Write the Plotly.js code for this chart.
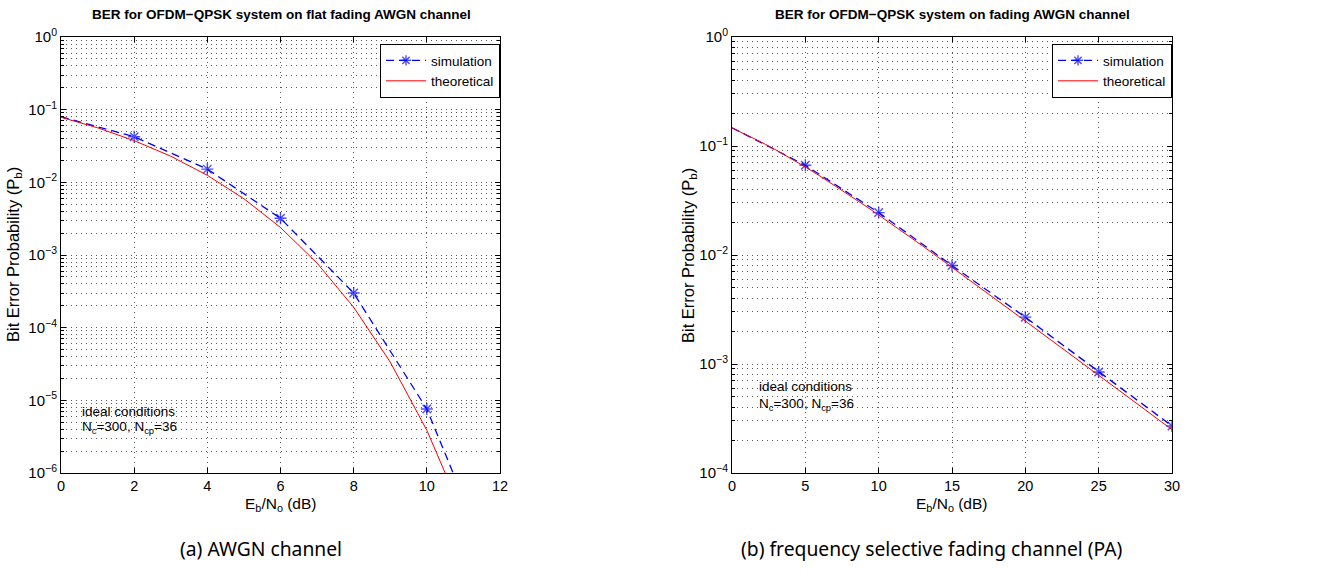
<!DOCTYPE html>
<html>
<head>
<meta charset="utf-8">
<script src="https://cdn.plot.ly/plotly-3.0.1.min.js"></script>
<style>
  html, body { margin: 0; padding: 0; background: #fff; }
  #chart { width: 1329px; height: 573px; }
</style>
</head>
<body>
<div id="chart"></div>
<script>
// (a) AWGN channel: Eb/No in dB and bit error probability
const ebnoTheoryA = [0, 1, 2, 3, 4, 5, 6, 7, 8, 9, 10, 11];
const berTheoryA  = [0.0786, 0.0563, 0.0375, 0.0229, 0.0125, 0.00595, 0.00239,
                     7.73e-4, 1.91e-4, 3.36e-5, 3.87e-6, 2.61e-7];
const ebnoSimA = [0, 2, 4, 6, 8, 10, 12];
const berSimA  = [0.080, 0.0424, 0.0152, 0.0032, 3.0e-4, 7.6e-6, 2.7e-8];

// (b) frequency selective fading channel (PA)
const ebnoTheoryB = [0, 1, 2, 3, 4, 5, 6, 7, 8, 9, 10, 11, 12, 13, 14, 15,
                     16, 17, 18, 19, 20, 21, 22, 23, 24, 25, 26, 27, 28, 29, 30];
const berTheoryB  = [0.1464, 0.1267, 0.1085, 0.0919, 0.0771, 0.0642, 0.0530,
                     0.0435, 0.0355, 0.0288, 0.0233, 0.0188, 0.0151, 0.0121,
                     0.00966, 0.00772, 0.00617, 0.00492, 0.00392, 0.00312,
                     0.00248, 0.00197, 0.00157, 0.00125, 9.92e-4, 7.88e-4,
                     6.27e-4, 4.98e-4, 3.96e-4, 3.14e-4, 2.50e-4];
const ebnoSimB = [0, 5, 10, 15, 20, 25, 30];
const berSimB  = [0.147, 0.0665, 0.0245, 0.0080, 0.00269, 8.45e-4, 2.7e-4];

// decade tick labels
const decadeValsA = [1e-6, 1e-5, 1e-4, 1e-3, 1e-2, 1e-1, 1];
const decadeTextA = ['10<sup>−6</sup>', '10<sup>−5</sup>', '10<sup>−4</sup>',
                     '10<sup>−3</sup>', '10<sup>−2</sup>', '10<sup>−1</sup>', '10<sup>0</sup>'];
const decadeValsB = [1e-4, 1e-3, 1e-2, 1e-1, 1];
const decadeTextB = ['10<sup>−4</sup>', '10<sup>−3</sup>', '10<sup>−2</sup>',
                     '10<sup>−1</sup>', '10<sup>0</sup>'];

const FONT = 'Liberation Sans, Arial, Helvetica, sans-serif';
const BLUE = '#0000ff';
const RED = '#ff0000';
const GRID = 'rgba(0,0,0,0.65)';
const GRIDDASH = '1px,4px';

// minor log ticks at 2..9 of every decade between lo and hi exponents
function minorLogTicks(lo, hi) {
  const v = [];
  for (let e = lo; e < hi; e++) {
    for (let m = 2; m <= 9; m++) v.push(m * Math.pow(10, e));
  }
  return v;
}

function markerSizes(n) {
  // the first sample has no marker drawn
  return Array.from({length: n}, (_, i) => (i === 0 ? 0 : 10));
}

function simTrace(x, y, xa, ya, legend) {
  return {
    x: x, y: y, xaxis: xa, yaxis: ya, legend: legend,
    type: 'scatter', mode: 'lines+markers', name: 'simulation',
    line: {color: BLUE, width: 1.3, dash: '8px,5px'},
    marker: {symbol: 'asterisk-open', size: markerSizes(x.length),
             color: BLUE, line: {color: BLUE, width: 1.4}},
    cliponaxis: true
  };
}

function theoryTrace(x, y, xa, ya, legend) {
  return {
    x: x, y: y, xaxis: xa, yaxis: ya, legend: legend,
    type: 'scatter', mode: 'lines', name: 'theoretical',
    line: {color: RED, width: 1}
  };
}

const data = [
  simTrace(ebnoSimA, berSimA, 'x', 'y', 'legend'),
  theoryTrace(ebnoTheoryA, berTheoryA, 'x', 'y', 'legend'),
  simTrace(ebnoSimB, berSimB, 'x2', 'y2', 'legend2'),
  theoryTrace(ebnoTheoryB, berTheoryB, 'x2', 'y2', 'legend2')
];

function xAxis(domain, range, dtick, anchor) {
  return {
    domain: domain, range: range, dtick: dtick, tick0: 0, anchor: anchor,
    showline: true, linecolor: '#000', linewidth: 1, mirror: 'allticks',
    ticks: 'inside', ticklen: 5, tickcolor: '#000',
    showgrid: true, gridcolor: GRID, griddash: GRIDDASH, gridwidth: 1,
    zeroline: false, tickfont: {family: FONT, size: 14.5, color: '#000'},
    fixedrange: true
  };
}

function yAxis(domain, lo, vals, text, anchor) {
  return {
    type: 'log', domain: domain, range: [lo, 0], anchor: anchor,
    tickmode: 'array', tickvals: vals, ticktext: text,
    showline: true, linecolor: '#000', linewidth: 1, mirror: 'allticks',
    ticks: 'inside', ticklen: 5, tickcolor: '#000',
    showgrid: true, gridcolor: GRID, griddash: GRIDDASH, gridwidth: 1,
    minor: {tickmode: 'array', tickvals: minorLogTicks(lo, 0),
            ticks: 'inside', ticklen: 3, tickcolor: '#000',
            showgrid: true, gridcolor: GRID, griddash: GRIDDASH, gridwidth: 1},
    zeroline: false, tickfont: {family: FONT, size: 15, color: '#000'},
    fixedrange: true
  };
}

const W = 1329, H = 573;
const px = v => v / W;
const py = v => 1 - v / H;

const yDom = [py(473), py(37)];

function label(text, x, y, size, extra) {
  return Object.assign({
    text: text, xref: 'paper', yref: 'paper', x: x, y: y,
    xanchor: 'center', yanchor: 'middle',
    showarrow: false, font: {family: FONT, size: size, color: '#000'}
  }, extra || {});
}

function note(text, xa, ya, x, y) {
  return {text: text, xref: xa, yref: ya, x: x, y: y,
          xanchor: 'left', yanchor: 'middle', showarrow: false,
          font: {family: FONT, size: 13.5, color: '#000'}};
}

const CAPTION_FONT = {family: 'Noto Sans, sans-serif', size: 19.3, color: '#000'};

const annotations = [
  label('<b>BER for OFDM−QPSK system on flat fading AWGN channel</b>', px(281), py(15), 13.5),
  label('<b>BER for OFDM−QPSK system on fading AWGN channel</b>', px(952), py(15), 13.5),
  label('E<sub>b</sub>/N<sub>o</sub> (dB)', px(281), py(504), 15.5),
  label('E<sub>b</sub>/N<sub>o</sub> (dB)', px(952), py(504), 15.5),
  label('Bit Error Probability (P<sub>b</sub>)', px(14), py(255), 16.5, {textangle: -90}),
  label('Bit Error Probability (P<sub>b</sub>)', px(689), py(255), 16.5, {textangle: -90}),
  label('(a) AWGN channel', px(261), py(548), 19.3, {font: CAPTION_FONT}),
  label('(b) frequency selective fading channel (PA)', px(932), py(548), 19.3, {font: CAPTION_FONT}),
  note('ideal conditions', 'x', 'y', 0.52, -5.15),
  note('N<sub>c</sub>=300, N<sub>cp</sub>=36', 'x', 'y', 0.52, -5.37),
  note('ideal conditions', 'x2', 'y2', 1.7, -3.21),
  note('N<sub>c</sub>=300, N<sub>cp</sub>=36', 'x2', 'y2', 1.7, -3.37)
];

function legendBox(xRight) {
  return {
    x: xRight, y: py(44), xanchor: 'right', yanchor: 'top',
    bgcolor: '#fff', bordercolor: '#000', borderwidth: 1,
    font: {family: FONT, size: 13.5, color: '#000'},
    tracegroupgap: 0, itemwidth: 40
  };
}

const layout = {
  width: W, height: H,
  margin: {l: 0, r: 0, t: 0, b: 0},
  paper_bgcolor: '#fff', plot_bgcolor: '#fff',
  showlegend: true,
  xaxis: xAxis([px(61), px(500)], [0, 12], 2, 'y'),
  yaxis: yAxis(yDom, -6, decadeValsA, decadeTextA, 'x'),
  xaxis2: xAxis([px(732), px(1172)], [0, 30], 5, 'y2'),
  yaxis2: yAxis(yDom, -4, decadeValsB, decadeTextB, 'x2'),
  legend: legendBox(px(500)),
  legend2: legendBox(px(1172)),
  annotations: annotations
};

Plotly.newPlot('chart', data, layout, {staticPlot: true, displayModeBar: false});
</script>
</body>
</html>
